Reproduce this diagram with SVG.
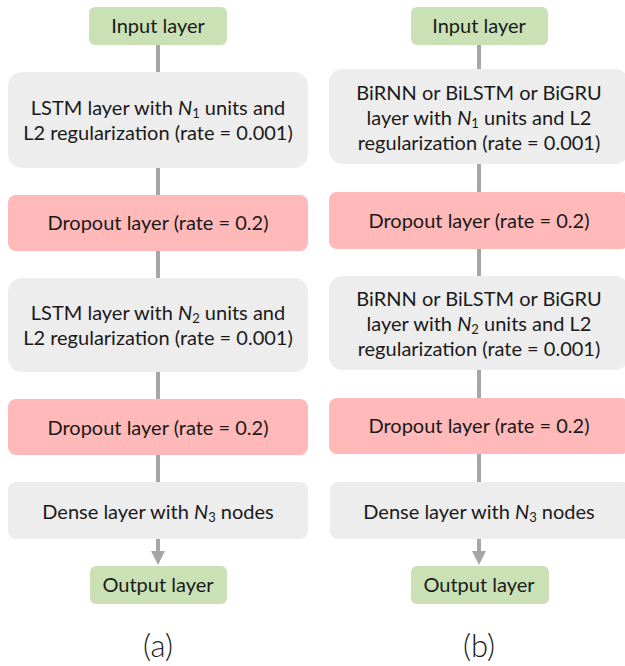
<svg xmlns="http://www.w3.org/2000/svg" width="625" height="666" viewBox="0 0 625 666">
  <style>
    .io { fill: #c9e1b5; }
    .layer { fill: #ededed; }
    .drop { fill: #ffb9b9; }
    .wire { stroke: #a6a6a6; stroke-width: 4; fill: none; }
    .head { fill: #a6a6a6; }
    text { font-family: "Lato", "Liberation Sans", sans-serif; font-size: 20px; fill: #1a1a1a; text-anchor: middle; }
    .cap { font-size: 31px; font-weight: 300; }
    .v { font-style: italic; }
    .sub { font-size: 13px; }
  </style>
  <rect width="625" height="666" fill="#ffffff"/>

  <!-- connectors: one continuous spine per column, drawn behind the layers -->
  <g id="connectors">
    <line class="wire" x1="158" y1="45" x2="158" y2="553"/>
    <polygon class="head" points="151,551 165,551 158,565"/>
    <line class="wire" x1="479" y1="45" x2="479" y2="553"/>
    <polygon class="head" points="472,551 486,551 479,565"/>
  </g>

  <!-- column (a): stacked LSTM -->
  <g id="a-input">
    <rect class="io" x="89" y="7" width="138" height="38" rx="6"/>
    <text x="158" y="33">Input layer</text>
  </g>
  <g id="a-lstm1">
    <rect class="layer" x="8" y="72" width="300" height="96" rx="14"/>
    <text x="158" y="115">LSTM layer with <tspan class="v">N</tspan><tspan class="sub" dy="3">1</tspan><tspan dy="-3"> units and</tspan></text>
    <text x="158" y="140">L2 regularization (rate = 0.001)</text>
  </g>
  <g id="a-drop1">
    <rect class="drop" x="8" y="195" width="300" height="56" rx="8"/>
    <text x="158" y="230">Dropout layer (rate = 0.2)</text>
  </g>
  <g id="a-lstm2">
    <rect class="layer" x="8" y="278" width="300" height="94" rx="14"/>
    <text x="158" y="320">LSTM layer with <tspan class="v">N</tspan><tspan class="sub" dy="3">2</tspan><tspan dy="-3"> units and</tspan></text>
    <text x="158" y="345">L2 regularization (rate = 0.001)</text>
  </g>
  <g id="a-drop2">
    <rect class="drop" x="8" y="399" width="300" height="56" rx="8"/>
    <text x="158" y="435">Dropout layer (rate = 0.2)</text>
  </g>
  <g id="a-dense">
    <rect class="layer" x="8" y="482" width="300" height="57" rx="8"/>
    <text x="158" y="519">Dense layer with <tspan class="v">N</tspan><tspan class="sub" dy="3">3</tspan><tspan dy="-3"> nodes</tspan></text>
  </g>
  <g id="a-output">
    <rect class="io" x="90" y="566" width="137" height="38" rx="6"/>
    <text x="158" y="592">Output layer</text>
  </g>
  <text class="cap" x="158" y="657">(a)</text>

  <!-- column (b): stacked bidirectional recurrent layers -->
  <g id="b-input">
    <rect class="io" x="411" y="7" width="137" height="38" rx="6"/>
    <text x="479" y="33">Input layer</text>
  </g>
  <g id="b-rnn1">
    <rect class="layer" x="329" y="69" width="300" height="95" rx="14"/>
    <text x="479" y="100">BiRNN or BiLSTM or BiGRU</text>
    <text x="479" y="125">layer with <tspan class="v">N</tspan><tspan class="sub" dy="3">1</tspan><tspan dy="-3"> units and L2</tspan></text>
    <text x="479" y="150">regularization (rate = 0.001)</text>
  </g>
  <g id="b-drop1">
    <rect class="drop" x="329" y="192" width="300" height="57" rx="8"/>
    <text x="479" y="228">Dropout layer (rate = 0.2)</text>
  </g>
  <g id="b-rnn2">
    <rect class="layer" x="329" y="276" width="300" height="94" rx="14"/>
    <text x="479" y="306">BiRNN or BiLSTM or BiGRU</text>
    <text x="479" y="331">layer with <tspan class="v">N</tspan><tspan class="sub" dy="3">2</tspan><tspan dy="-3"> units and L2</tspan></text>
    <text x="479" y="356">regularization (rate = 0.001)</text>
  </g>
  <g id="b-drop2">
    <rect class="drop" x="329" y="398" width="300" height="56" rx="8"/>
    <text x="479" y="433">Dropout layer (rate = 0.2)</text>
  </g>
  <g id="b-dense">
    <rect class="layer" x="330" y="482" width="300" height="57" rx="8"/>
    <text x="479" y="519">Dense layer with <tspan class="v">N</tspan><tspan class="sub" dy="3">3</tspan><tspan dy="-3"> nodes</tspan></text>
  </g>
  <g id="b-output">
    <rect class="io" x="411" y="566" width="138" height="38" rx="6"/>
    <text x="479" y="592">Output layer</text>
  </g>
  <text class="cap" x="479" y="657">(b)</text>
</svg>
